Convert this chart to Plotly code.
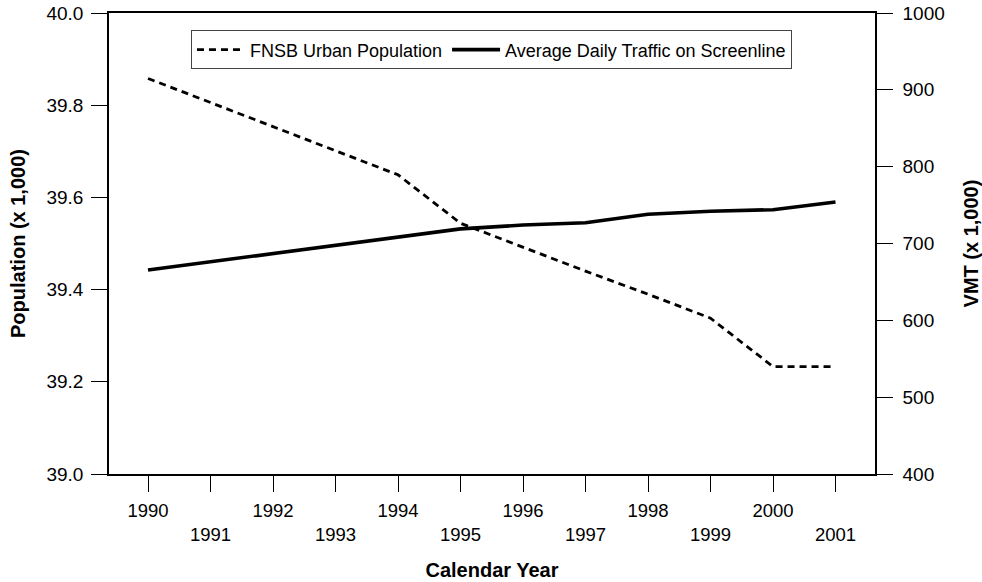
import plotly.graph_objects as go

years = [1990, 1991, 1992, 1993, 1994, 1995, 1996, 1997, 1998, 1999, 2000, 2001]
population = [39.858, 39.806, 39.754, 39.701, 39.649, 39.544, 39.492, 39.44, 39.39, 39.338, 39.233, 39.233]
traffic = [665.5, 676, 687, 698, 708, 719, 724, 727, 738, 742, 744, 754]
year_labels = [str(y) if i % 2 == 0 else " <br>" + str(y) for i, y in enumerate(years)]
pop_ticks = [39.0, 39.2, 39.4, 39.6, 39.8, 40.0]
vmt_ticks = [400, 500, 600, 700, 800, 900, 1000]

FONT = "Liberation Sans, Arial, sans-serif"

fig = go.Figure()
fig.add_trace(go.Scatter(
    x=years, y=population, name="FNSB Urban Population", mode="lines",
    line=dict(color="black", width=2.8, dash="7px,5px"), yaxis="y"))
fig.add_trace(go.Scatter(
    x=years, y=traffic, name="Average Daily Traffic on Screenline", mode="lines",
    line=dict(color="black", width=3.6), yaxis="y2"))

fig.update_layout(
    width=982, height=582,
    margin=dict(l=109, r=107, t=13, b=108),
    paper_bgcolor="white", plot_bgcolor="white",
    font=dict(family=FONT, size=19, color="black"),
    showlegend=True,
    legend=dict(
        orientation="h", x=0.107, y=0.92, xanchor="left", yanchor="middle",
        bordercolor="#444", borderwidth=1, bgcolor="white",
        font=dict(size=18), itemwidth=48,
    ),
    xaxis=dict(
        range=[1989.376, 2001.632], tickmode="array", tickvals=years, ticktext=year_labels,
        ticks="outside", ticklen=16, tickcolor="black", tickwidth=1,
        ticklabelstandoff=3, tickfont=dict(size=18.5), ticklabeloverflow="allow",
        showline=True, linecolor="black", linewidth=1.5, mirror=True,
        showgrid=False, zeroline=False, automargin=False,
        title=dict(text="<b>Calendar Year</b>", font=dict(size=20), standoff=19),
    ),
    yaxis=dict(
        range=[39.0, 40.0], tickmode="array", tickvals=pop_ticks,
        ticktext=[f"{v:.1f}" for v in pop_ticks],
        ticks="outside", ticklen=16, tickcolor="black", tickwidth=1,
        ticklabelstandoff=4, ticklabeloverflow="allow",
        showline=True, linecolor="black", linewidth=1.5,
        showgrid=False, zeroline=False, automargin=False,
        title=dict(text="<b>Population (x 1,000)</b>", font=dict(size=20), standoff=15),
    ),
    yaxis2=dict(
        range=[400, 1000], tickmode="array", tickvals=vmt_ticks,
        ticktext=[str(v) for v in vmt_ticks],
        overlaying="y", side="right",
        ticks="outside", ticklen=16, tickcolor="black", tickwidth=1,
        ticklabelstandoff=6, ticklabeloverflow="allow",
        showline=True, linecolor="black", linewidth=1.5,
        showgrid=False, zeroline=False, automargin=False,
        title=dict(text="<b>VMT (x 1,000)</b>", font=dict(size=20), standoff=29),
    ),
)

fig.write_html("out.html", config={"displayModeBar": False},
               post_script="document.body.style.margin='0';")
